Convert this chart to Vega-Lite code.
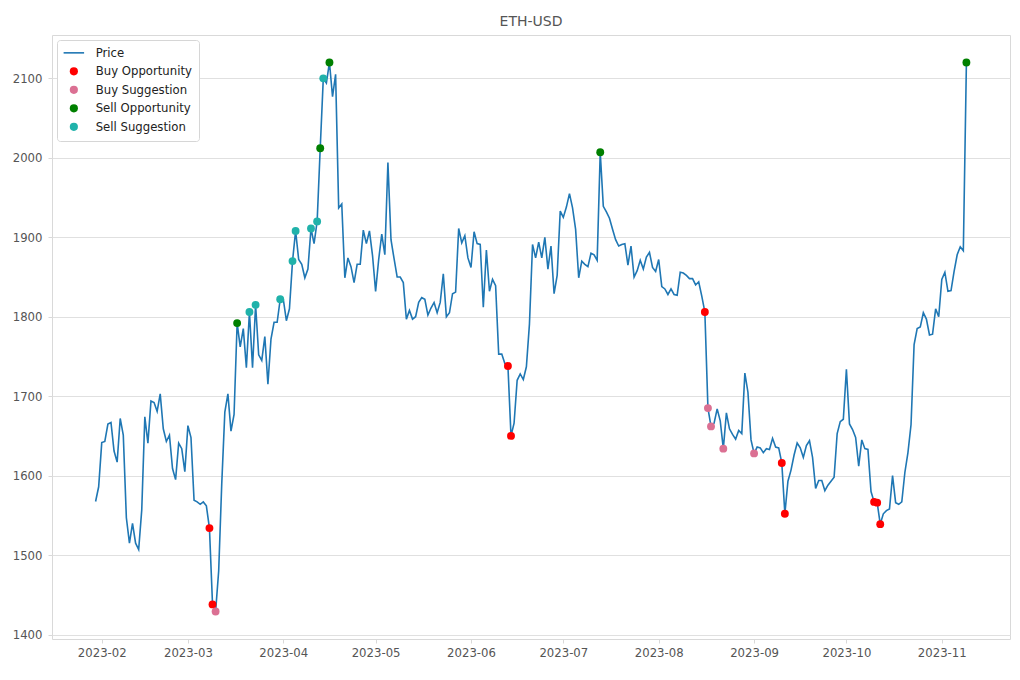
{
  "$schema": "https://vega.github.io/schema/vega-lite/v6.json",
  "width": 958,
  "height": 604,
  "autosize": {"type": "none"},
  "padding": {"left": 52, "top": 35, "right": 10, "bottom": 41},
  "background": "white",
  "title": {"text": "ETH-USD", "fontSize": 14, "font": "DejaVu Sans", "fontWeight": "normal", "color": "#555555", "offset": 6},
  "config": {
    "view": {"stroke": "#d9d9d9", "strokeWidth": 1},
    "axis": {"labelFont": "DejaVu Sans", "labelFontSize": 11.7, "labelColor": "#555555", "tickColor": "#d9d9d9", "tickSize": 4, "domain": false, "gridColor": "#e0e0e0", "gridWidth": 1},
    "legend": {
      "orient": "top-left", "offset": 5,
      "labelFont": "DejaVu Sans", "labelFontSize": 11.7, "labelColor": "#222222",
      "strokeColor": "#d6d6d6", "fillColor": "white", "cornerRadius": 3, "padding": 7,
      "rowPadding": 5.5, "labelOffset": 16, "symbolOffset": 4
    }
  },
  "datasets": {
    "price": [
      {"d":"2023-01-30","p":1567.5},{"d":"2023-01-31","p":1586},{"d":"2023-02-01","p":1641.6},{"d":"2023-02-02","p":1643},{"d":"2023-02-03","p":1665},{"d":"2023-02-04","p":1667},{"d":"2023-02-05","p":1631},{"d":"2023-02-06","p":1617},{"d":"2023-02-07","p":1672},{"d":"2023-02-08","p":1651},{"d":"2023-02-09","p":1547},{"d":"2023-02-10","p":1515},{"d":"2023-02-11","p":1540},{"d":"2023-02-12","p":1515},{"d":"2023-02-13","p":1507},{"d":"2023-02-14","p":1557},{"d":"2023-02-15","p":1674},{"d":"2023-02-16","p":1641},{"d":"2023-02-17","p":1694},{"d":"2023-02-18","p":1692},{"d":"2023-02-19","p":1681},{"d":"2023-02-20","p":1703},{"d":"2023-02-21","p":1659},{"d":"2023-02-22","p":1643},{"d":"2023-02-23","p":1651},{"d":"2023-02-24","p":1609},{"d":"2023-02-25","p":1595},{"d":"2023-02-26","p":1641},{"d":"2023-02-27","p":1634},{"d":"2023-02-28","p":1605},
      {"d":"2023-03-01","p":1663},{"d":"2023-03-02","p":1648},{"d":"2023-03-03","p":1569},{"d":"2023-03-04","p":1567},{"d":"2023-03-05","p":1564},{"d":"2023-03-06","p":1567},{"d":"2023-03-07","p":1562},{"d":"2023-03-08","p":1534},{"d":"2023-03-09","p":1438},{"d":"2023-03-10","p":1429},{"d":"2023-03-11","p":1480},{"d":"2023-03-12","p":1590},{"d":"2023-03-13","p":1680},{"d":"2023-03-14","p":1703},{"d":"2023-03-15","p":1656},{"d":"2023-03-16","p":1677},{"d":"2023-03-17","p":1792},{"d":"2023-03-18","p":1762},{"d":"2023-03-19","p":1785},{"d":"2023-03-20","p":1736},{"d":"2023-03-21","p":1806},{"d":"2023-03-22","p":1736},{"d":"2023-03-23","p":1815},{"d":"2023-03-24","p":1752},{"d":"2023-03-25","p":1745},{"d":"2023-03-26","p":1775},{"d":"2023-03-27","p":1715},{"d":"2023-03-28","p":1772},{"d":"2023-03-29","p":1793},{"d":"2023-03-30","p":1793},{"d":"2023-03-31","p":1822},
      {"d":"2023-04-01","p":1822},{"d":"2023-04-02","p":1795},{"d":"2023-04-03","p":1810},{"d":"2023-04-04","p":1870},{"d":"2023-04-05","p":1908},{"d":"2023-04-06","p":1872},{"d":"2023-04-07","p":1866},{"d":"2023-04-08","p":1849},{"d":"2023-04-09","p":1860},{"d":"2023-04-10","p":1911},{"d":"2023-04-11","p":1892},{"d":"2023-04-12","p":1920},{"d":"2023-04-13","p":2012},{"d":"2023-04-14","p":2100},{"d":"2023-04-15","p":2094},{"d":"2023-04-16","p":2120},{"d":"2023-04-17","p":2077},{"d":"2023-04-18","p":2105},{"d":"2023-04-19","p":1937},{"d":"2023-04-20","p":1942},{"d":"2023-04-21","p":1849},{"d":"2023-04-22","p":1874},{"d":"2023-04-23","p":1863},{"d":"2023-04-24","p":1843},{"d":"2023-04-25","p":1866},{"d":"2023-04-26","p":1866},{"d":"2023-04-27","p":1909},{"d":"2023-04-28","p":1892},{"d":"2023-04-29","p":1908},{"d":"2023-04-30","p":1877},
      {"d":"2023-05-01","p":1832},{"d":"2023-05-02","p":1872},{"d":"2023-05-03","p":1904},{"d":"2023-05-04","p":1878},{"d":"2023-05-05","p":1994},{"d":"2023-05-06","p":1897},{"d":"2023-05-07","p":1873},{"d":"2023-05-08","p":1850},{"d":"2023-05-09","p":1850},{"d":"2023-05-10","p":1843},{"d":"2023-05-11","p":1797},{"d":"2023-05-12","p":1808},{"d":"2023-05-13","p":1797},{"d":"2023-05-14","p":1800},{"d":"2023-05-15","p":1818},{"d":"2023-05-16","p":1824},{"d":"2023-05-17","p":1822},{"d":"2023-05-18","p":1802},{"d":"2023-05-19","p":1811},{"d":"2023-05-20","p":1818},{"d":"2023-05-21","p":1805},{"d":"2023-05-22","p":1818},{"d":"2023-05-23","p":1854},{"d":"2023-05-24","p":1800},{"d":"2023-05-25","p":1805},{"d":"2023-05-26","p":1829},{"d":"2023-05-27","p":1831},{"d":"2023-05-28","p":1911},{"d":"2023-05-29","p":1893},{"d":"2023-05-30","p":1902},{"d":"2023-05-31","p":1874},
      {"d":"2023-06-01","p":1862},{"d":"2023-06-02","p":1907},{"d":"2023-06-03","p":1892},{"d":"2023-06-04","p":1891},{"d":"2023-06-05","p":1812},{"d":"2023-06-06","p":1884},{"d":"2023-06-07","p":1832},{"d":"2023-06-08","p":1847},{"d":"2023-06-09","p":1839},{"d":"2023-06-10","p":1753},{"d":"2023-06-11","p":1753},{"d":"2023-06-12","p":1741},{"d":"2023-06-13","p":1738},{"d":"2023-06-14","p":1650},{"d":"2023-06-15","p":1666},{"d":"2023-06-16","p":1720},{"d":"2023-06-17","p":1728},{"d":"2023-06-18","p":1721},{"d":"2023-06-19","p":1737},{"d":"2023-06-20","p":1791},{"d":"2023-06-21","p":1891},{"d":"2023-06-22","p":1874},{"d":"2023-06-23","p":1894},{"d":"2023-06-24","p":1874},{"d":"2023-06-25","p":1900},{"d":"2023-06-26","p":1860},{"d":"2023-06-27","p":1889},{"d":"2023-06-28","p":1829},{"d":"2023-06-29","p":1852},{"d":"2023-06-30","p":1933},
      {"d":"2023-07-01","p":1925},{"d":"2023-07-02","p":1938},{"d":"2023-07-03","p":1955},{"d":"2023-07-04","p":1937},{"d":"2023-07-05","p":1910},{"d":"2023-07-06","p":1849},{"d":"2023-07-07","p":1870},{"d":"2023-07-08","p":1866},{"d":"2023-07-09","p":1863},{"d":"2023-07-10","p":1880},{"d":"2023-07-11","p":1878},{"d":"2023-07-12","p":1871},{"d":"2023-07-13","p":2007},{"d":"2023-07-14","p":1939},{"d":"2023-07-15","p":1932},{"d":"2023-07-16","p":1924},{"d":"2023-07-17","p":1910},{"d":"2023-07-18","p":1897},{"d":"2023-07-19","p":1889},{"d":"2023-07-20","p":1891},{"d":"2023-07-21","p":1892},{"d":"2023-07-22","p":1865},{"d":"2023-07-23","p":1889},{"d":"2023-07-24","p":1850},{"d":"2023-07-25","p":1858},{"d":"2023-07-26","p":1871},{"d":"2023-07-27","p":1860},{"d":"2023-07-28","p":1875},{"d":"2023-07-29","p":1881},{"d":"2023-07-30","p":1862},{"d":"2023-07-31","p":1857},
      {"d":"2023-08-01","p":1872},{"d":"2023-08-02","p":1838},{"d":"2023-08-03","p":1835},{"d":"2023-08-04","p":1828},{"d":"2023-08-05","p":1835},{"d":"2023-08-06","p":1828},{"d":"2023-08-07","p":1827},{"d":"2023-08-08","p":1856},{"d":"2023-08-09","p":1855},{"d":"2023-08-10","p":1852},{"d":"2023-08-11","p":1848},{"d":"2023-08-12","p":1848},{"d":"2023-08-13","p":1840},{"d":"2023-08-14","p":1844},{"d":"2023-08-15","p":1826},{"d":"2023-08-16","p":1806},{"d":"2023-08-17","p":1685},{"d":"2023-08-18","p":1662},{"d":"2023-08-19","p":1666},{"d":"2023-08-20","p":1684},{"d":"2023-08-21","p":1669},{"d":"2023-08-22","p":1634},{"d":"2023-08-23","p":1679},{"d":"2023-08-24","p":1659},{"d":"2023-08-25","p":1652},{"d":"2023-08-26","p":1646},{"d":"2023-08-27","p":1657},{"d":"2023-08-28","p":1653},{"d":"2023-08-29","p":1729},{"d":"2023-08-30","p":1705},{"d":"2023-08-31","p":1645},
      {"d":"2023-09-01","p":1628},{"d":"2023-09-02","p":1636},{"d":"2023-09-03","p":1635},{"d":"2023-09-04","p":1629},{"d":"2023-09-05","p":1634},{"d":"2023-09-06","p":1633},{"d":"2023-09-07","p":1647},{"d":"2023-09-08","p":1636},{"d":"2023-09-09","p":1635},{"d":"2023-09-10","p":1616},{"d":"2023-09-11","p":1552},{"d":"2023-09-12","p":1593},{"d":"2023-09-13","p":1607},{"d":"2023-09-14","p":1626},{"d":"2023-09-15","p":1641},{"d":"2023-09-16","p":1635},{"d":"2023-09-17","p":1623},{"d":"2023-09-18","p":1638},{"d":"2023-09-19","p":1644},{"d":"2023-09-20","p":1623},{"d":"2023-09-21","p":1584},{"d":"2023-09-22","p":1594},{"d":"2023-09-23","p":1594},{"d":"2023-09-24","p":1581},{"d":"2023-09-25","p":1588},{"d":"2023-09-26","p":1593},{"d":"2023-09-27","p":1598},{"d":"2023-09-28","p":1653},{"d":"2023-09-29","p":1668},{"d":"2023-09-30","p":1671},
      {"d":"2023-10-01","p":1734},{"d":"2023-10-02","p":1665},{"d":"2023-10-03","p":1658},{"d":"2023-10-04","p":1648},{"d":"2023-10-05","p":1612},{"d":"2023-10-06","p":1645},{"d":"2023-10-07","p":1634},{"d":"2023-10-08","p":1633},{"d":"2023-10-09","p":1580},{"d":"2023-10-10","p":1567},{"d":"2023-10-11","p":1566},{"d":"2023-10-12","p":1539},{"d":"2023-10-13","p":1552},{"d":"2023-10-14","p":1556},{"d":"2023-10-15","p":1558},{"d":"2023-10-16","p":1600},{"d":"2023-10-17","p":1566},{"d":"2023-10-18","p":1564},{"d":"2023-10-19","p":1567},{"d":"2023-10-20","p":1604},{"d":"2023-10-21","p":1629},{"d":"2023-10-22","p":1664},{"d":"2023-10-23","p":1765},{"d":"2023-10-24","p":1785},{"d":"2023-10-25","p":1787},{"d":"2023-10-26","p":1805},{"d":"2023-10-27","p":1797},{"d":"2023-10-28","p":1777},{"d":"2023-10-29","p":1778},{"d":"2023-10-30","p":1810},{"d":"2023-10-31","p":1800},
      {"d":"2023-11-01","p":1847},{"d":"2023-11-02","p":1856},{"d":"2023-11-03","p":1832},{"d":"2023-11-04","p":1833},{"d":"2023-11-05","p":1857},{"d":"2023-11-06","p":1878},{"d":"2023-11-07","p":1888},{"d":"2023-11-08","p":1883},{"d":"2023-11-09","p":2120}
    ],
    "signals": [
      {"d":"2023-03-08","p":1534,"s":"Buy Opportunity"},{"d":"2023-03-09","p":1438,"s":"Buy Opportunity"},{"d":"2023-06-13","p":1738,"s":"Buy Opportunity"},{"d":"2023-06-14","p":1650,"s":"Buy Opportunity"},{"d":"2023-08-16","p":1806,"s":"Buy Opportunity"},{"d":"2023-09-10","p":1616,"s":"Buy Opportunity"},{"d":"2023-09-11","p":1552,"s":"Buy Opportunity"},{"d":"2023-10-10","p":1567,"s":"Buy Opportunity"},{"d":"2023-10-11","p":1566,"s":"Buy Opportunity"},{"d":"2023-10-12","p":1539,"s":"Buy Opportunity"},
      {"d":"2023-03-10","p":1429,"s":"Buy Suggestion"},{"d":"2023-08-17","p":1685,"s":"Buy Suggestion"},{"d":"2023-08-18","p":1662,"s":"Buy Suggestion"},{"d":"2023-08-22","p":1634,"s":"Buy Suggestion"},{"d":"2023-09-01","p":1628,"s":"Buy Suggestion"},
      {"d":"2023-03-17","p":1792,"s":"Sell Opportunity"},{"d":"2023-04-13","p":2012,"s":"Sell Opportunity"},{"d":"2023-04-16","p":2120,"s":"Sell Opportunity"},{"d":"2023-07-13","p":2007,"s":"Sell Opportunity"},{"d":"2023-11-09","p":2120,"s":"Sell Opportunity"},
      {"d":"2023-03-21","p":1806,"s":"Sell Suggestion"},{"d":"2023-03-23","p":1815,"s":"Sell Suggestion"},{"d":"2023-03-31","p":1822,"s":"Sell Suggestion"},{"d":"2023-04-04","p":1870,"s":"Sell Suggestion"},{"d":"2023-04-05","p":1908,"s":"Sell Suggestion"},{"d":"2023-04-10","p":1911,"s":"Sell Suggestion"},{"d":"2023-04-12","p":1920,"s":"Sell Suggestion"},{"d":"2023-04-14","p":2100,"s":"Sell Suggestion"}
    ]
  },
  "encoding": {
    "x": {
      "field": "d", "type": "temporal", "title": null,
      "scale": {"type": "utc", "domain": [{"year": 2023, "month": 1, "date": 15, "hours": 20, "utc": true}, {"year": 2023, "month": 11, "date": 23, "hours": 4, "utc": true}]},
      "axis": {"format": "%Y-%m", "grid": false, "labelPadding": 4,
        "values": [{"year":2023,"month":2,"date":1,"utc":true},{"year":2023,"month":3,"date":1,"utc":true},{"year":2023,"month":4,"date":1,"utc":true},{"year":2023,"month":5,"date":1,"utc":true},{"year":2023,"month":6,"date":1,"utc":true},{"year":2023,"month":7,"date":1,"utc":true},{"year":2023,"month":8,"date":1,"utc":true},{"year":2023,"month":9,"date":1,"utc":true},{"year":2023,"month":10,"date":1,"utc":true},{"year":2023,"month":11,"date":1,"utc":true}]}
    },
    "y": {
      "field": "p", "type": "quantitative", "title": null,
      "scale": {"domain": [1394.45, 2154.55], "nice": false, "zero": false},
      "axis": {"values": [1400, 1500, 1600, 1700, 1800, 1900, 2000, 2100], "format": "d", "grid": true, "labelPadding": 6}
    }
  },
  "layer": [
    {
      "data": {"name": "price"},
      "mark": {"type": "line", "strokeWidth": 1.6, "interpolate": "linear"},
      "encoding": {
        "color": {
          "datum": "Price", "type": "nominal",
          "scale": {"domain": ["Price", "Buy Opportunity", "Buy Suggestion", "Sell Opportunity", "Sell Suggestion"], "range": ["#1f77b4", "#ff0000", "#db7093", "#008000", "#20b2aa"]},
          "legend": {
            "title": null,
            "encode": {
              "symbols": {"update": {
                "shape": {"signal": "datum.value === 'Price' ? 'stroke' : 'circle'"},
                "size": {"signal": "datum.value === 'Price' ? 420 : 66"},
                "stroke": {"signal": "scale('color', datum.value)"},
                "strokeWidth": {"signal": "datum.value === 'Price' ? 1.6 : 0"},
                "fill": {"signal": "datum.value === 'Price' ? 'transparent' : scale('color', datum.value)"},
                "opacity": {"value": 1}
              }}
            }
          }
        }
      }
    },
    {
      "data": {"name": "signals"},
      "mark": {"type": "point", "filled": true, "opacity": 1, "size": 62},
      "encoding": {
        "color": {
          "field": "s", "type": "nominal",
          "legend": {
            "title": null,
            "encode": {
              "symbols": {"update": {
                "shape": {"signal": "datum.value === 'Price' ? 'stroke' : 'circle'"},
                "size": {"signal": "datum.value === 'Price' ? 420 : 66"},
                "stroke": {"signal": "scale('color', datum.value)"},
                "strokeWidth": {"signal": "datum.value === 'Price' ? 1.6 : 0"},
                "fill": {"signal": "datum.value === 'Price' ? 'transparent' : scale('color', datum.value)"},
                "opacity": {"value": 1}
              }}
            }
          }
        }
      }
    }
  ]
}
